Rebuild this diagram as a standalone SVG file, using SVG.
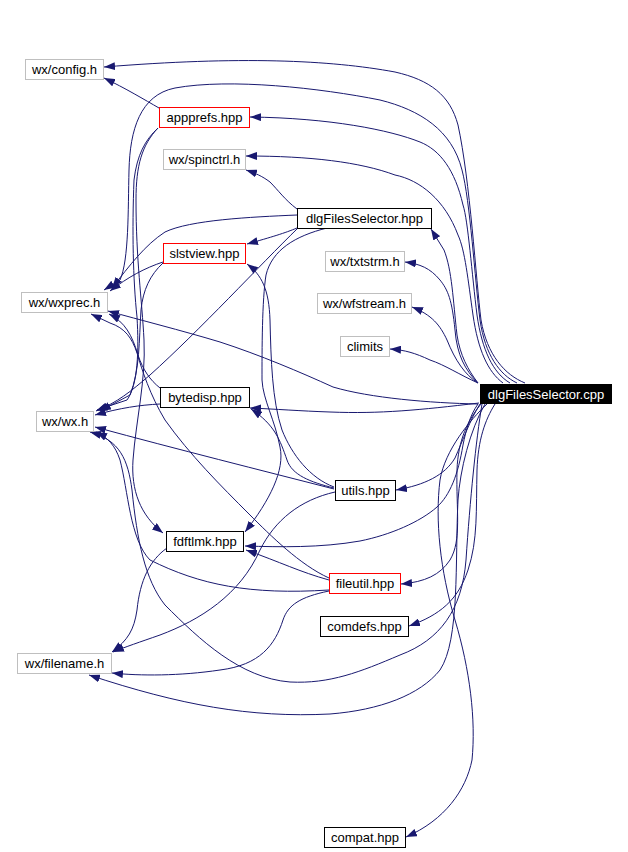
<svg xmlns="http://www.w3.org/2000/svg" width="628" height="852" viewBox="0 0 628 852">
<defs>
<marker id="ah" markerUnits="userSpaceOnUse" viewBox="0 0 11 8" markerWidth="11" markerHeight="8" refX="11" refY="4" orient="auto">
<path d="M0,0 L11,4 L0,8 z" fill="#191970"/>
</marker>
<style>
.e{fill:none;stroke:#191970;stroke-width:1;marker-end:url(#ah)}
.n rect{fill:#fff;stroke:#000;stroke-width:1}
.g rect{stroke:#bfbfbf}
.r rect{stroke:#ff0000}
text{font-family:"Liberation Sans",Arial,Helvetica,sans-serif;font-size:13px;text-anchor:middle;fill:#000}
</style>
</defs>
<rect width="628" height="852" fill="#fff"/>
<g id="edges">
<path class="e" d="M525,383 C505,375 487,355 481,320 C476,280 470,180 458,125 C450,95 430,80 395,72 C330,60 240,56 104,67"/>
<path class="e" d="M517,383 C500,375 485,355 480,320 C475,280 470,200 462,170 C452,130 420,110 380,100 C320,88 230,78 175,88 C140,95 130,130 129,170 C128,210 129,260 120,280 L104,290"/>
<path class="e" d="M510,383 C493,373 482,350 477,315 C472,275 468,220 463,205 C455,170 440,150 420,142 C390,130 330,118 250,117"/>
<path class="e" d="M503,383 C488,372 478,350 473,315 C468,280 465,250 458,235 C445,200 420,180 395,175 C360,162 310,156 246,156"/>
<path class="e" d="M478,383 C468,370 460,355 457,335 C453,300 452,270 444,250 L431,229"/>
<path class="e" d="M478,383 C465,370 457,355 455,330 C452,300 448,290 440,280 C430,268 420,264 405,262"/>
<path class="e" d="M478,383 C465,375 455,360 447,340 C440,325 432,315 412,307"/>
<path class="e" d="M478,383 C460,375 445,365 430,360 C415,353 405,350 390,349"/>
<path class="e" d="M479,403 C420,410 380,414 330,412 C300,411 275,409 250,408"/>
<path class="e" d="M478,404 C430,403 370,398 333,387 C300,372 260,355 220,342 C180,330 140,320 108,311"/>
<path class="e" d="M334,487 C310,478 292,455 282,430 C272,400 271,360 270,320 C269,290 262,275 247,264"/>
<path class="e" d="M327,228 C295,236 272,250 266,275 C262,300 262,350 262,380 C263,400 275,420 280,447 C285,470 270,500 245,532"/>
<path class="e" d="M334,488 C310,482 292,475 287,460 C280,440 275,425 251,409"/>
<path class="e" d="M334,489 C260,470 180,450 95,427"/>
<path class="e" d="M298,228 C260,265 200,330 150,375 C130,392 118,402 96,411"/>
<path class="e" d="M160,404 C140,405 120,408 95,415"/>
<path class="e" d="M160,388 C150,380 143,370 138,355 C132,335 125,322 109,314"/>
<path class="e" d="M158,128 C145,140 137,155 134,180 C132,230 133,280 137,317 C139,350 138,385 127,400 L97,410"/>
<path class="e" d="M158,128 C142,145 136,165 136,200 C136,260 142,300 144,340 C146,380 136,420 133,460 C131,490 140,515 163,533"/>
<path class="e" d="M163,263 C150,275 143,290 141,310 C139,340 140,370 130,395 L100,411"/>
<path class="e" d="M329,590 C250,595 200,585 150,560 C130,540 128,490 120,460 C115,445 108,438 96,432"/>
<path class="e" d="M482,404 C476,440 470,500 466,560 C462,610 440,640 400,655 C360,672 330,684 290,682 C240,678 200,640 165,605 C145,580 137,540 132,490 C128,460 120,440 90,432"/>
<path class="e" d="M485,404 C470,430 460,470 458,500 C455,560 460,640 440,670 C420,695 380,710 330,714 C250,718 180,705 89,675"/>
<path class="e" d="M480,404 C470,420 463,440 455,458 C445,475 425,485 396,490"/>
<path class="e" d="M481,404 C468,420 458,440 457,470 C456,510 462,540 450,560 C440,575 425,582 401,584"/>
<path class="e" d="M495,404 C485,420 478,440 477,470 C476,510 478,540 468,570 C458,600 440,615 409,626"/>
<path class="e" d="M487,404 C470,420 445,450 440,480 C435,520 440,570 455,620 C470,670 476,720 472,760 C466,790 445,820 406,837"/>
<path class="e" d="M478,404 C470,415 466,430 463,445 C458,475 450,495 437,507 C420,522 390,535 360,541 C320,548 280,547 245,546"/>
<path class="e" d="M329,580 C300,572 280,562 246,550"/>
<path class="e" d="M329,591 C300,597 288,605 283,620 C275,645 260,665 220,670 C180,676 140,676 112,673"/>
<path class="e" d="M329,578 C300,565 270,535 250,515 C220,485 190,455 165,420 C150,395 142,370 137,353 C132,338 125,328 110,323 L91,314"/>
<path class="e" d="M167,548 C150,560 140,580 137,610 C134,630 128,640 112,652"/>
<path class="e" d="M335,492 C300,500 275,520 260,550 C240,595 200,620 160,635 C140,642 125,647 113,652"/>
<path class="e" d="M159,108 C145,100 125,88 104,78"/>
<path class="e" d="M297,209 C285,200 278,190 270,182 C262,176 255,173 246,170"/>
<path class="e" d="M297,228 C285,233 272,237 247,244"/>
<path class="e" d="M297,215 C250,217 190,220 165,232 C145,245 130,265 112,288"/>
<path class="e" d="M163,262 C145,268 128,277 110,291"/>
</g>
<g id="n_config" class="n g"><rect x="25.5" y="59.5" width="78" height="20"/><text x="64.5" y="74">wx/config.h</text></g>
<g id="n_appprefs" class="n r"><rect x="159.5" y="107.5" width="90" height="20"/><text x="204.5" y="122">appprefs.hpp</text></g>
<g id="n_spinctrl" class="n g"><rect x="163.5" y="149.5" width="82" height="20"/><text x="204.5" y="164">wx/spinctrl.h</text></g>
<g id="n_dlghpp" class="n"><rect x="297.5" y="208.5" width="134" height="20"/><text x="364.5" y="223">dlgFilesSelector.hpp</text></g>
<g id="n_slstview" class="n r"><rect x="163.5" y="243.5" width="82" height="20"/><text x="204.5" y="258">slstview.hpp</text></g>
<g id="n_txtstrm" class="n g"><rect x="325.5" y="251.5" width="79" height="20"/><text x="365" y="266">wx/txtstrm.h</text></g>
<g id="n_wxprec" class="n g"><rect x="21.5" y="292.5" width="86" height="20"/><text x="64.5" y="307">wx/wxprec.h</text></g>
<g id="n_wfstream" class="n g"><rect x="317.5" y="293.5" width="94" height="20"/><text x="364.5" y="308">wx/wfstream.h</text></g>
<g id="n_climits" class="n g"><rect x="340.5" y="336.5" width="49" height="20"/><text x="365" y="351">climits</text></g>
<g id="n_cpp"><rect x="480" y="384" width="132" height="20" fill="#000"/><text x="546" y="398.5" style="fill:#fff">dlgFilesSelector.cpp</text></g>
<g id="n_bytedisp" class="n"><rect x="160.5" y="387.5" width="89" height="20"/><text x="205" y="402">bytedisp.hpp</text></g>
<g id="n_wx" class="n g"><rect x="36.5" y="411.5" width="57" height="20"/><text x="65" y="426">wx/wx.h</text></g>
<g id="n_utils" class="n"><rect x="335.5" y="480.5" width="60" height="20"/><text x="365.5" y="495">utils.hpp</text></g>
<g id="n_fdftlmk" class="n"><rect x="166.5" y="531.5" width="77" height="20"/><text x="205" y="546">fdftlmk.hpp</text></g>
<g id="n_fileutil" class="n r"><rect x="329.5" y="573.5" width="71" height="20"/><text x="365" y="588">fileutil.hpp</text></g>
<g id="n_comdefs" class="n"><rect x="320.5" y="616.5" width="88" height="20"/><text x="364.5" y="631">comdefs.hpp</text></g>
<g id="n_filename" class="n g"><rect x="17.5" y="653.5" width="94" height="20"/><text x="64.5" y="668">wx/filename.h</text></g>
<g id="n_compat" class="n"><rect x="324.5" y="827.5" width="81" height="20"/><text x="365" y="842">compat.hpp</text></g>
</svg>
